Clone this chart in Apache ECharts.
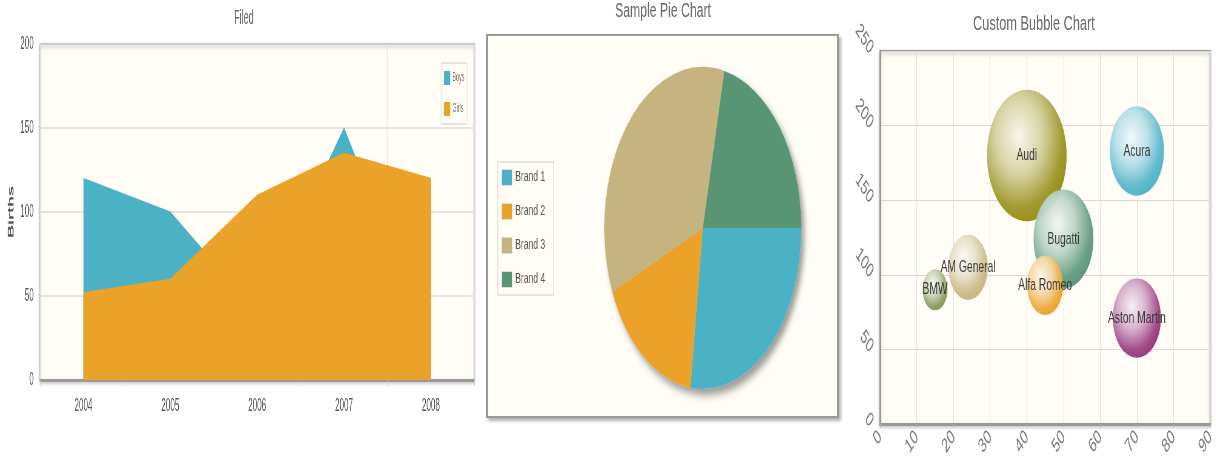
<!DOCTYPE html>
<html>
<head>
<meta charset="utf-8">
<script src="https://cdn.jsdelivr.net/npm/echarts@6/dist/echarts.min.js"></script>
<style>
    html, body { margin: 0; padding: 0; background: #fff; width: 1216px; height: 465px; overflow: hidden; }
    .chart { position: absolute; top: 0; height: 465px; transform-origin: 0 0; }
    /* the source picture is stretched vertically, so each chart is drawn wider and squeezed back */
    #area-chart { left: 0; width: 1067px; transform: scaleX(0.45); }
    #pie-box { position: absolute; left: 486px; top: 34px; width: 353px; height: 384px; box-sizing: border-box;
        border: 2px solid #999; background: #fffdf6; box-shadow: 2px 3px 3px rgba(0, 0, 0, 0.3); }
    #pie-chart { left: 480px; width: 588px; transform: scaleX(0.612); }
    #bubble-chart { left: 840px; width: 620px; transform: scaleX(0.606); }
</style>
</head>
<body>
<div id="area-chart" class="chart"></div>
<div id="pie-box"></div>
<div id="pie-chart" class="chart"></div>
<div id="bubble-chart" class="chart"></div>
<script>
// Area chart data
const years = ['2004', '2005', '2006', '2007', '2008'];
const boys = [120, 100, 40, 150, 20];
const girls = [52, 60, 110, 135, 120];

// Pie chart data
const brands = ['Brand 1', 'Brand 2', 'Brand 3', 'Brand 4'];
const brandShares = [27, 16.5, 35, 21.5];

// Bubble chart data
const cars = ['Audi', 'Acura', 'Bugatti', 'Alfa Romeo', 'AM General', 'BMW', 'Aston Martin'];
const carX = [40, 70, 50, 45, 24, 15, 70];
const carY = [180, 183, 124, 93, 105, 90, 71];
const carSize = [1080, 500, 610, 220, 265, 105, 395];

const font = "'Liberation Sans', Arial, sans-serif";
const plotBg = '#fffdf6';
const blue = '#4bb2c5';
const orange = '#eaa228';
const carColors = ['#958c12', '#4bb2c5', '#579575', '#eaa228', '#c5b47f', '#839557', '#953579'];

// blend a colour towards white
function mix(hex, t) {
    const n = parseInt(hex.slice(1), 16);
    const f = c => Math.round(c + (255 - c) * t);
    return 'rgb(' + f(n >> 16) + ',' + f((n >> 8) & 255) + ',' + f(n & 255) + ')';
}

function bubbleFill(hex) {
    return new echarts.graphic.RadialGradient(0.4, 0.35, 0.65, [
        { offset: 0, color: mix(hex, 0.92) },
        { offset: 0.45, color: mix(hex, 0.6) },
        { offset: 0.85, color: mix(hex, 0.08) },
        { offset: 1, color: hex }
    ]);
}

// ---- Filled area chart ----
const areaChart = echarts.init(document.getElementById('area-chart'));
areaChart.setOption({
    backgroundColor: 'transparent',
    animation: false,
    title: {
        text: 'Filed',
        left: 542,
        textAlign: 'center',
        top: 8,
        padding: 0,
        textStyle: { fontFamily: font, fontSize: 20, fontWeight: 'normal', color: '#666' }
    },
    legend: {
        data: ['Boys', 'Girls'],
        orient: 'vertical',
        right: 29,
        top: 63,
        padding: [8, 6, 8, 6],
        itemGap: 17,
        itemWidth: 14,
        itemHeight: 14,
        icon: 'rect',
        borderColor: '#ccc',
        borderWidth: 1,
        textStyle: { fontFamily: font, fontSize: 12, color: '#777' }
    },
    grid: {
        left: 89,
        right: 13,
        top: 44,
        bottom: 85,
        show: true,
        backgroundColor: plotBg,
        borderColor: '#999',
        borderWidth: 2,
        shadowBlur: 4,
        shadowOffsetY: 2,
        shadowColor: 'rgba(0,0,0,0.25)',
        outerBoundsMode: 'none'
    },
    xAxis: {
        type: 'category',
        data: years,
        boundaryGap: true,
        axisLine: { lineStyle: { color: '#999', width: 3 } },
        axisTick: { show: true, length: 6, lineStyle: { color: '#ccc' } },
        axisLabel: { margin: 17, fontFamily: font, fontSize: 18, color: '#555' },
        splitLine: { show: true, interval: 1, lineStyle: { color: '#ddd' } }
    },
    yAxis: {
        type: 'value',
        min: 0,
        max: 200,
        interval: 50,
        name: 'Births',
        nameLocation: 'middle',
        nameRotate: 90,
        nameGap: 55,
        nameTextStyle: { fontFamily: font, fontSize: 18, fontWeight: 'bold', color: '#555' },
        axisLine: { show: false },
        axisTick: { show: false },
        axisLabel: { margin: 14, fontFamily: font, fontSize: 18, color: '#555' },
        splitLine: { lineStyle: { color: '#ddd', width: 1.5 } }
    },
    series: [
        {
            name: 'Boys',
            type: 'line',
            z: 2,
            data: boys,
            symbol: 'none',
            itemStyle: { color: blue },
            lineStyle: { color: blue, width: 1 },
            areaStyle: { color: blue, opacity: 1 }
        },
        {
            name: 'Girls',
            type: 'line',
            z: 3,
            data: girls,
            symbol: 'none',
            itemStyle: { color: orange },
            lineStyle: { color: orange, width: 1 },
            areaStyle: { color: orange, opacity: 1 }
        }
    ]
});

// ---- Pie chart ----
const pieChart = echarts.init(document.getElementById('pie-chart'));
pieChart.setOption({
    backgroundColor: 'transparent',
    animation: false,
    color: [blue, orange, '#c5b47f', '#579575'],
    title: {
        text: 'Sample Pie Chart',
        left: 299,
        textAlign: 'center',
        top: 1,
        padding: 0,
        textStyle: { fontFamily: font, fontSize: 20, fontWeight: 'normal', color: '#666' }
    },
    legend: {
        data: brands,
        orient: 'vertical',
        left: 29,
        top: 162,
        padding: [7, 14, 7, 6],
        itemGap: 17,
        itemWidth: 17,
        itemHeight: 16,
        icon: 'rect',
        borderColor: '#ccc',
        borderWidth: 1,
        itemStyle: { borderColor: '#ddd', borderWidth: 1 },
        textStyle: { fontFamily: font, fontSize: 14, color: '#555' }
    },
    series: [
        {
            name: 'Brands',
            type: 'pie',
            center: [364, 228],
            radius: 161,
            startAngle: 0,
            z: 2,
            label: { show: false },
            labelLine: { show: false },
            itemStyle: { borderWidth: 0 },
            data: brands.map((b, i) => ({ name: b, value: brandShares[i] }))
        },
        {
            // shadow disc under the pie
            type: 'pie',
            silent: true,
            center: [364, 228],
            radius: 161,
            startAngle: 0,
            z: 1,
            label: { show: false },
            labelLine: { show: false },
            itemStyle: {
                color: plotBg,
                borderWidth: 0,
                shadowBlur: 8,
                shadowOffsetX: 5,
                shadowOffsetY: 6,
                shadowColor: 'rgba(0,0,0,0.4)'
            },
            data: brandShares.map(v => ({ value: v }))
        }
    ]
});

// ---- Bubble chart ----
const bubbleChart = echarts.init(document.getElementById('bubble-chart'));
bubbleChart.setOption({
    backgroundColor: 'transparent',
    animation: false,
    title: {
        text: 'Custom Bubble Chart',
        left: 320,
        textAlign: 'center',
        top: 14,
        padding: 0,
        textStyle: { fontFamily: font, fontSize: 21, fontWeight: 'normal', color: '#666' }
    },
    grid: {
        left: 66,
        right: 9,
        top: 51,
        bottom: 41,
        show: true,
        backgroundColor: plotBg,
        borderColor: '#999',
        borderWidth: 2,
        shadowBlur: 4,
        shadowOffsetY: 2,
        shadowColor: 'rgba(0,0,0,0.25)',
        outerBoundsMode: 'none'
    },
    xAxis: {
        type: 'value',
        min: 0,
        max: 90,
        interval: 10,
        axisLine: { show: true, onZero: false, lineStyle: { color: '#999', width: 3 } },
        axisTick: { show: true, length: 4, lineStyle: { color: '#bbb' } },
        axisLabel: { rotate: 45, margin: 10, showMinLabel: true, showMaxLabel: true,
            fontFamily: font, fontSize: 20, color: '#777' },
        splitLine: { show: true, lineStyle: { color: '#ddd' } }
    },
    yAxis: {
        type: 'value',
        min: 0,
        max: 250,
        interval: 50,
        axisLine: { show: true, onZero: false, lineStyle: { color: '#999', width: 3 } },
        axisTick: { show: false },
        axisLabel: { rotate: -45, margin: 14, showMinLabel: true, showMaxLabel: true,
            fontFamily: font, fontSize: 20, color: '#777' },
        splitLine: { show: true, lineStyle: { color: '#d8d8d8' } }
    },
    series: [
        {
            type: 'scatter',
            symbolSize: v => 4 * Math.sqrt(v[2]),
            label: {
                show: true,
                position: 'inside',
                formatter: p => p.name,
                fontFamily: font,
                fontSize: 17,
                color: '#333',
                textBorderWidth: 0
            },
            data: cars.map((c, i) => ({
                name: c,
                value: [carX[i], carY[i], carSize[i]],
                itemStyle: { color: bubbleFill(carColors[i]), opacity: 0.95 }
            }))
        }
    ]
});
</script>
</body>
</html>
